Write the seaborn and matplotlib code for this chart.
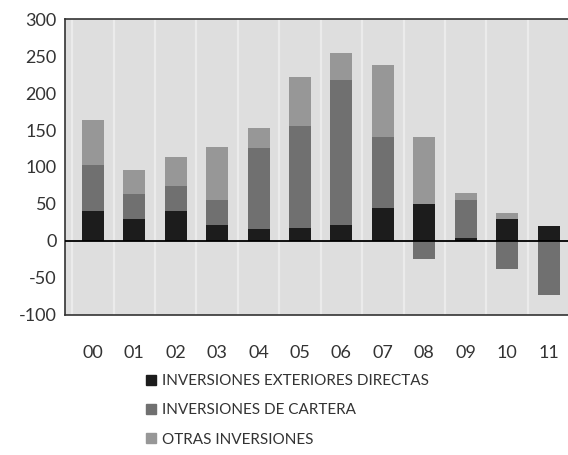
import numpy as np
import pandas as pd
import matplotlib
matplotlib.use("Agg")
import matplotlib.pyplot as plt
import seaborn as sns
from matplotlib.lines import Line2D

# datos
anios = ['00', '01', '02', '03', '04', '05', '06', '07', '08', '09', '10', '11']
ied = [41, 30, 40, 22, 16, 18, 22, 45, 50, 4, 29, 20]
cartera = [62, 33, 34, 34, 110, 137, 195, 95, -24, 52, -38, -73]
otras = [61, 33, 40, 71, 27, 67, 37, 98, 91, 9, 9, 0]
series = ['INVERSIONES EXTERIORES DIRECTAS', 'INVERSIONES DE CARTERA', 'OTRAS INVERSIONES']
colores = ['#1c1c1c', '#707070', '#979797']

sns.set_style("white")
plt.rcParams['axes.unicode_minus'] = False
plt.rcParams['font.family'] = ['Lato', 'DejaVu Sans']

df = pd.DataFrame({'anio': anios, 'ied': ied, 'cartera': cartera, 'otras': otras})

fig = plt.figure(figsize=(5.68, 4.55), dpi=100, facecolor='white')
ax = fig.add_axes([0.114, 0.308, 0.886, 0.650])
ax.set_facecolor('#dedede')

# apilado: positivos hacia arriba, negativos hacia abajo
pos = np.zeros(len(anios))
neg = np.zeros(len(anios))
for col, color in zip(['ied', 'cartera', 'otras'], colores):
    vals = df[col].to_numpy(dtype=float)
    base = np.where(vals >= 0, pos, neg)
    sns.barplot(data=df, x='anio', y=col, color=color, width=0.53, bottom=base,
                errorbar=None, saturation=1, linewidth=0, edgecolor='none', ax=ax, zorder=3)
    pos = pos + np.clip(vals, 0, None)
    neg = neg + np.clip(vals, None, 0)

ax.axhline(0, color='black', linewidth=1.3, zorder=4)
ax.set_ylim(-100, 300)
ax.set_xlim(-0.68, 11.47)
ax.set_yticks(range(-100, 301, 50))
ax.set_xticks(np.arange(-0.5, 11.5, 1), minor=True)
ax.grid(which='minor', axis='x', color='#ebebeb', linewidth=1.6, zorder=1)
ax.set_xlabel('')
ax.set_ylabel('')

for s in ['top', 'left', 'bottom']:
    ax.spines[s].set_color('#333333')
    ax.spines[s].set_linewidth(1.2)
ax.spines['right'].set_visible(False)

ax.tick_params(axis='y', direction='in', length=4, pad=6, labelsize=13, colors='#333333')
ax.tick_params(axis='x', which='both', length=0, pad=22, labelsize=13, colors='#333333')

handles = [Line2D([0], [0], marker='s', linestyle='', markersize=7, color=c) for c in colores]
leg = fig.legend(handles, series, loc='upper left', bbox_to_anchor=(0.232, 0.208),
                 frameon=False, handlelength=0.7, handletextpad=0.4, labelspacing=1.0,
                 prop={'size': 11})
for t in leg.get_texts():
    t.set_color('#333333')

fig.savefig('out.png', dpi=100, facecolor='white')
